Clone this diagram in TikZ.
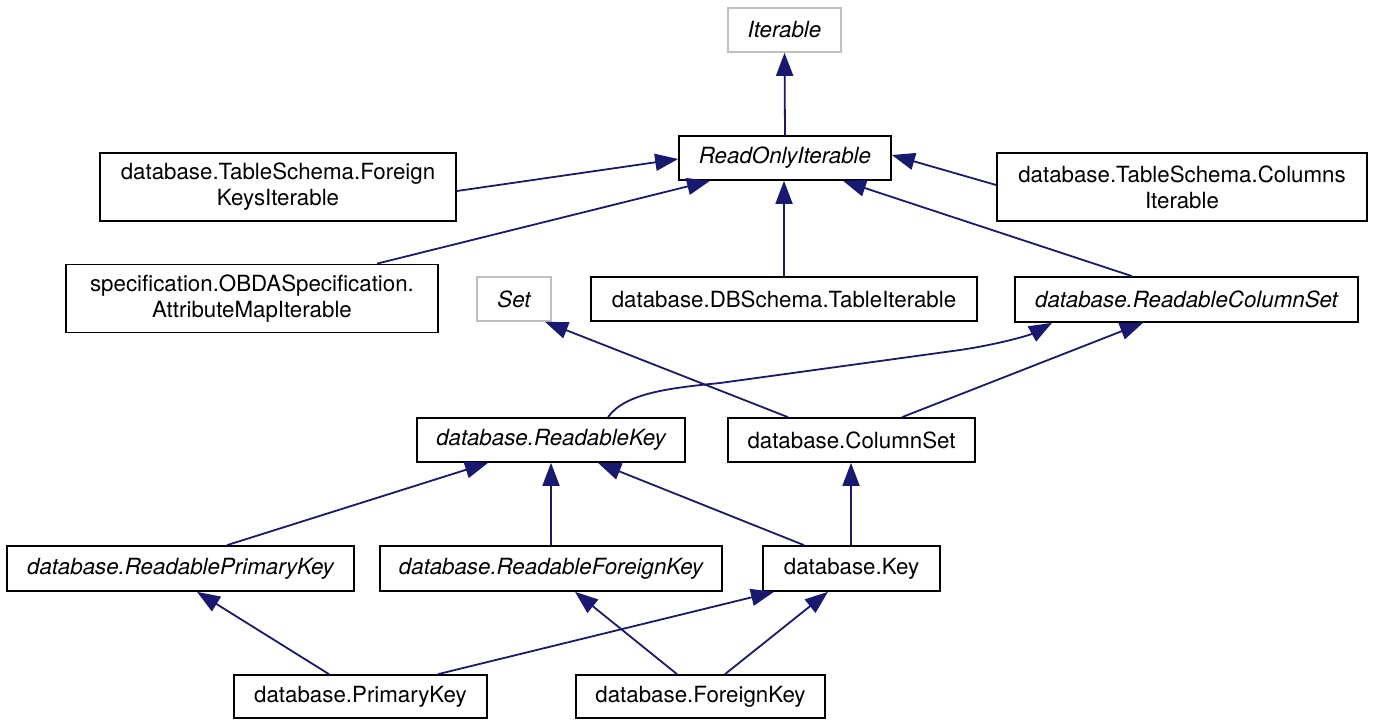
\documentclass[tikz,border=0pt]{standalone}
\usepackage{fontspec}
\setmainfont{TeX Gyre Heros}
\usetikzlibrary{arrows.meta}
\definecolor{edgecol}{HTML}{191970}
\definecolor{graybox}{HTML}{BFBFBF}
\begin{document}
\begin{tikzpicture}[x=1pt,y=-1pt,
  box/.style={draw=black,line width=1.7pt,fill=white,inner sep=0pt,align=center,font=\fontsize{22.3}{26}\selectfont},
  gbox/.style={box,draw=graybox},
  inh/.style={draw=edgecol,line width=1.8pt,-{Triangle[length=23pt,width=17pt]}}]
\useasboundingbox (0,0) rectangle (1379,724);
% nodes
\node[gbox,minimum width=113pt,minimum height=44pt] (iter) at (784.5,30) {\itshape Iterable};
\node[box,minimum width=212pt,minimum height=44pt] (roi) at (785,158) {\itshape ReadOnlyIterable};
\node[box,minimum width=356pt,minimum height=68pt] (fki) at (278,187) {database.TableSchema.Foreign\\KeysIterable};
\node[box,minimum width=370pt,minimum height=68pt] (ci) at (1182,187) {database.TableSchema.Columns\\Iterable};
\node[box,minimum width=372pt,minimum height=68pt] (ami) at (252,298.5) {specification.OBDASpecification.\\AttributeMapIterable};
\node[gbox,minimum width=74pt,minimum height=44pt] (set) at (514,299) {\itshape Set};
\node[box,minimum width=386pt,minimum height=44pt] (ti) at (784,299) {database.DBSchema.TableIterable};
\node[box,minimum width=343pt,minimum height=45pt] (rcs) at (1186.5,299.5) {\itshape database.ReadableColumnSet};
\node[box,minimum width=268pt,minimum height=44pt] (rk) at (551,440) {\itshape database.ReadableKey};
\node[box,minimum width=247pt,minimum height=44pt] (cs) at (851.5,440) {database.ColumnSet};
\node[box,minimum width=347pt,minimum height=45pt] (rpk) at (180.5,568.5) {\itshape database.ReadablePrimaryKey};
\node[box,minimum width=342pt,minimum height=45pt] (rfk) at (551,568.5) {\itshape database.ReadableForeignKey};
\node[box,minimum width=177pt,minimum height=45pt] (key) at (851.5,568.5) {database.Key};
\node[box,minimum width=253pt,minimum height=43pt] (pk) at (360.5,696.5) {database.PrimaryKey};
\node[box,minimum width=249pt,minimum height=43pt] (fk) at (700.5,696.5) {database.ForeignKey};
% edges
\draw[inh] (roi.north) -- (iter.south);
\draw[inh] ([yshift=-4pt]fki.east) -- ([yshift=-1pt]roi.west);
\draw[inh] ([xshift=125pt]ami.north) -- ([xshift=-75pt]roi.south);
\draw[inh] (ti.north) -- (ti.north |- roi.south);
\draw[inh] ([xshift=-54.5pt]rcs.north) -- ([xshift=58pt]roi.south);
\draw[inh] ([yshift=2pt]ci.west) -- ([yshift=3pt]roi.east);
\draw[inh] ([xshift=-63.5pt]cs.north) -- ([xshift=31pt]set.south);
\draw[inh] ([xshift=50.5pt]cs.north) -- ([xshift=-43.5pt]rcs.south);
\draw[inh] ([xshift=57pt]rk.north) .. controls (625,393) and (670,388) .. (720,383) -- (960,350) .. controls (1000,344) and (1030,335) .. ([xshift=-134.5pt]rcs.south);
\draw[inh] ([xshift=46.5pt]rpk.north) -- ([xshift=-63pt]rk.south);
\draw[inh] (rfk.north) -- (rk.south);
\draw[inh] ([xshift=-47.5pt]key.north) -- ([xshift=47pt]rk.south);
\draw[inh] ([xshift=-0.5pt]key.north) -- ([xshift=-0.5pt]cs.south);
\draw[inh] ([xshift=-31.5pt]pk.north) -- ([xshift=16.5pt]rpk.south);
\draw[inh] ([xshift=77.5pt]pk.north) -- ([xshift=-77.5pt]key.south);
\draw[inh] ([xshift=-23.5pt]fk.north) -- ([xshift=24pt]rfk.south);
\draw[inh] ([xshift=24.5pt]fk.north) -- ([xshift=-23.5pt]key.south);
\end{tikzpicture}
\end{document}
